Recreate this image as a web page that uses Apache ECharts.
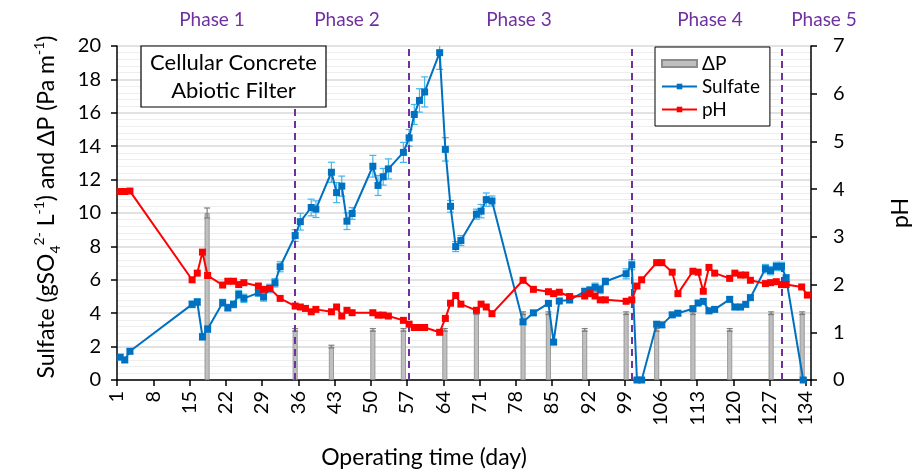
<!DOCTYPE html>
<html>
<head>
<meta charset="utf-8">
<script src="https://cdn.jsdelivr.net/npm/echarts@6/dist/echarts.min.js"></script>
<style>html,body{margin:0;padding:0;background:#fff}#c{width:920px;height:474px}</style>
</head>
<body>
<div id="c"></div>
<script>
// ---- data ----
const xTickLabels = [1, 8, 15, 22, 29, 36, 43, 50, 57, 64, 71, 78, 85, 92, 99, 106, 113, 120, 127, 134];
const leftTicks = [0, 2, 4, 6, 8, 10, 12, 14, 16, 18, 20];
const rightTicks = [0, 1, 2, 3, 4, 5, 6, 7];

const sulfateDays = [1.6, 2.5, 3.5, 15.5, 16.5, 17.5, 18.5, 21.4, 22.4, 23.5, 24.5, 25.5, 28.3, 29.3, 30.5, 31.5, 32.5,
  35.4, 36.4, 38.5, 39.4, 42.4, 43.4, 44.4, 45.4, 46.4, 50.4, 51.4, 52.4, 53.4, 56.3, 57.4, 58.4, 59.4, 60.4,
  63.3, 64.4, 65.4, 66.4, 67.4, 70.4, 71.3, 72.3, 73.4, 79.4, 81.4, 84.3, 85.3, 86.4, 88.4, 91.3, 92.3, 93.3, 94.3, 95.3,
  99.3, 100.4, 101.4, 102.3, 105.2, 106.2, 108.2, 109.3, 112.2, 113.2, 114.2, 115.3, 116.4, 119.3, 120.3, 121.4, 122.4, 123.3,
  126.2, 127.2, 128.3, 129.3, 130.2, 133.5];
const sulfateValues = [1.37, 1.2, 1.72, 4.53, 4.67, 2.59, 3.05, 4.63, 4.33, 4.53, 5.12, 4.89, 5.22, 4.97, 5.48, 5.82, 6.78,
  8.65, 9.48, 10.33, 10.23, 12.44, 11.22, 11.61, 9.51, 9.97, 12.8, 11.65, 12.17, 12.64, 13.63, 14.5, 15.9, 16.74, 17.25,
  19.6, 13.81, 10.4, 7.99, 8.35, 9.93, 10.11, 10.8, 10.72, 3.48, 4.02, 4.59, 2.27, 4.73, 4.79, 5.3, 5.38, 5.55, 5.42, 5.9,
  6.36, 6.9, 0, 0, 3.34, 3.3, 3.9, 4.0, 4.27, 4.61, 4.71, 4.14, 4.23, 4.83, 4.37, 4.37, 4.53, 4.93,
  6.67, 6.55, 6.8, 6.8, 6.11, 0];
const sulfateErrors = [0.15, 0.15, 0.15, 0.2, 0.2, 0.2, 0.2, 0.2, 0.2, 0.2, 0.25, 0.25, 0.2, 0.25, 0.25, 0.25, 0.3,
  0.35, 0.5, 0.5, 0.5, 0.6, 0.6, 0.6, 0.5, 0.35, 0.65, 0.6, 0.5, 0.6, 0.6, 0.5, 0.6, 0.7, 0.9,
  1.0, 0.7, 0.35, 0.3, 0.3, 0.3, 0.4, 0.4, 0.3, 0.15, 0.15, 0.15, 0.15, 0.15, 0.15, 0.2, 0.2, 0.25, 0.25, 0.2,
  0.3, 0.3, 0.1, 0.1, 0.15, 0.15, 0.15, 0.15, 0.15, 0.15, 0.15, 0.15, 0.15, 0.15, 0.15, 0.15, 0.15, 0.15,
  0.25, 0.25, 0.25, 0.25, 0.2, 0.1];

const phDays = [1.6, 2.5, 3.5, 15.5, 16.5, 17.5, 18.5, 21.4, 22.4, 23.5, 24.5, 25.5, 28.3, 29.3, 30.5, 32.5,
  35.4, 36.4, 37.4, 38.5, 39.4, 42.4, 43.4, 44.4, 45.4, 46.4, 50.4, 51.4, 52.4, 53.4, 56.3, 57.4, 58.4, 59.4, 60.4,
  63.3, 64.4, 65.4, 66.4, 67.4, 70.4, 71.3, 72.3, 73.4, 79.4, 81.4, 84.3, 85.3, 86.4, 88.4, 91.3, 92.3, 93.3, 94.3, 95.3,
  99.3, 100.4, 101.4, 102.3, 105.2, 106.2, 108.2, 109.3, 112.2, 113.2, 114.2, 115.3, 116.4, 119.3, 120.3, 121.4, 122.4, 123.3,
  126.2, 127.2, 128.3, 129.3, 130.2, 133.2, 134.3];
const phValues = [3.95, 3.95, 3.96, 2.10, 2.24, 2.68, 2.19, 1.99, 2.07, 2.07, 2.00, 2.04, 1.97, 1.90, 1.92, 1.71,
  1.55, 1.53, 1.50, 1.43, 1.48, 1.43, 1.53, 1.34, 1.46, 1.41, 1.41, 1.36, 1.36, 1.34, 1.25, 1.17, 1.10, 1.10, 1.10,
  1.00, 1.29, 1.61, 1.77, 1.59, 1.46, 1.59, 1.53, 1.39, 2.09, 1.90, 1.85, 1.81, 1.84, 1.75, 1.76, 1.81, 1.76, 1.68, 1.68,
  1.65, 1.68, 1.97, 2.10, 2.46, 2.46, 2.26, 1.81, 2.28, 2.26, 1.86, 2.36, 2.24, 2.13, 2.24, 2.20, 2.20, 2.09,
  2.02, 2.04, 2.06, 2.00, 2.00, 1.95, 1.78];

const dpDays = [18.4, 35.4, 42.4, 50.4, 56.3, 64.3, 70.4, 79.4, 84.3, 91.3, 99.3, 105.2, 112.2, 119.3, 127.3, 133.3];
const dpValues = [10, 3, 2, 3, 3, 3, 4, 4, 4, 3, 4, 3, 4, 3, 4, 4];
const dpErrors = [0.3, 0.08, 0.08, 0.08, 0.08, 0.08, 0.08, 0.08, 0.08, 0.08, 0.08, 0.08, 0.08, 0.08, 0.08, 0.08];

const phaseBoundaryDays = [35.4, 57.4, 100.3, 129.3];
const phaseNames = ['Phase 1', 'Phase 2', 'Phase 3', 'Phase 4', 'Phase 5'];
const phaseLabelX = [212, 347, 519, 710, 824];

// ---- chart ----
const DAY0 = 1; // axis runs from day 1 (x = day - DAY0)
const FONT = 'Lato, "Open Sans", sans-serif';
const pair = (ds, vs) => ds.map((d, i) => [d - DAY0, vs[i]]);

function errRender(color, cap) {
  return function (params, api) {
    const x = api.value(0), v = api.value(1), e = api.value(2);
    const top = api.coord([x, v + e]);
    const bot = api.coord([x, Math.max(0, v - e)]);
    const style = { stroke: color, lineWidth: 1.2 };
    return {
      type: 'group',
      children: [
        { type: 'line', shape: { x1: top[0], y1: top[1], x2: bot[0], y2: bot[1] }, style },
        { type: 'line', shape: { x1: top[0] - cap, y1: top[1], x2: top[0] + cap, y2: top[1] }, style },
        { type: 'line', shape: { x1: bot[0] - cap, y1: bot[1], x2: bot[0] + cap, y2: bot[1] }, style }
      ]
    };
  };
}

const chart = echarts.init(document.getElementById('c'), null, { renderer: 'canvas' });
const option = {
  animation: false,
  textStyle: { fontFamily: FONT },
  grid: { left: 117, right: 105, top: 46, bottom: 91, containLabel: false },
  legend: {
    orient: 'vertical', left: 655, top: 47,
    backgroundColor: '#fff', borderColor: '#000', borderWidth: 1,
    padding: [7, 10, 7, 6], itemGap: 4, itemWidth: 35, itemHeight: 7,
    textStyle: { fontSize: 19, color: '#000', fontFamily: FONT, lineHeight: 19 },
    data: [
      { name: 'ΔP', icon: 'rect' },
      { name: 'Sulfate' },
      { name: 'pH' }
    ]
  },
  xAxis: {
    type: 'value', min: 0, max: 134, interval: 7,
    name: 'Operating time (day)', nameLocation: 'middle', nameGap: 66,
    nameTextStyle: { fontSize: 23, color: '#000', padding: [0, 80, 0, 0] },
    axisLine: { lineStyle: { color: '#000', width: 1.5 } },
    axisTick: { inside: false, length: 6, lineStyle: { color: '#000', width: 1.5 } },
    axisLabel: {
      rotate: 90, fontSize: 20, color: '#000', margin: 11,
      formatter: v => { const lab = v + DAY0; return xTickLabels.includes(lab) ? String(lab) : ''; }
    },
    splitLine: { show: false }
  },
  yAxis: [
    {
      type: 'value', min: 0, max: 20, interval: 2, position: 'left',
      name: '{n|Sulfate (gSO}{sub|4}{sup|2-}{n| L}{sup|-1}{n|) and ΔP (Pa m}{sup|-1}{n|)}',
      nameLocation: 'middle', nameGap: 55,
      nameTextStyle: {
        padding: [0, 0, 0, 12],
        rich: {
          n: { fontSize: 23, color: '#000', fontFamily: FONT, lineHeight: 30, verticalAlign: 'middle' },
          sup: { fontSize: 14, color: '#000', fontFamily: FONT, lineHeight: 15, verticalAlign: 'top' },
          sub: { fontSize: 14, color: '#000', fontFamily: FONT, lineHeight: 15, verticalAlign: 'bottom' }
        }
      },
      axisLine: { show: true, lineStyle: { color: '#000', width: 1.5 } },
      axisTick: { show: true, inside: false, length: 6, lineStyle: { color: '#000', width: 1.5 } },
      axisLabel: { fontSize: 20, color: '#000', margin: 16,
        formatter: v => leftTicks.includes(v) ? String(v) : '' },
      splitLine: { show: true, lineStyle: { color: '#d9d9d9', width: 1.5 } },
      minorTick: { show: false, splitNumber: 5 },
      minorSplitLine: { show: true, lineStyle: { color: '#eeeeee', width: 1 } }
    },
    {
      type: 'value', min: 0, max: 7, interval: 1, position: 'right',
      name: 'pH', nameLocation: 'middle', nameGap: 78,
      nameTextStyle: { fontSize: 23, color: '#000' },
      axisLine: { show: true, lineStyle: { color: '#000', width: 1.5 } },
      axisTick: { show: true, inside: false, length: 6, lineStyle: { color: '#000', width: 1.5 } },
      axisLabel: { fontSize: 20, color: '#000', margin: 22,
        formatter: v => rightTicks.includes(v) ? String(v) : '' },
      splitLine: { show: false }
    }
  ],
  series: [
    {
      name: 'ΔP', type: 'bar', yAxisIndex: 0, barWidth: 5, z: 2,
      itemStyle: { color: '#BFBFBF', borderColor: '#8C8C8C', borderWidth: 0.8 },
      data: pair(dpDays, dpValues)
    },
    {
      name: 'ΔP err', type: 'custom', yAxisIndex: 0, z: 3, clip: true,
      renderItem: errRender('#7f7f7f', 3),
      data: dpDays.map((d, i) => [d - DAY0, dpValues[i], dpErrors[i]])
    },
    {
      name: 'Sulfate err', type: 'custom', yAxisIndex: 0, z: 4, clip: true,
      renderItem: errRender('#3FB6EE', 3.5),
      data: sulfateDays.map((d, i) => [d - DAY0, sulfateValues[i], sulfateErrors[i]])
    },
    {
      name: 'Sulfate', type: 'line', yAxisIndex: 0, z: 5,
      symbol: 'rect', symbolSize: 7, color: '#0070C0',
      lineStyle: { color: '#0070C0', width: 2 },
      itemStyle: { color: '#0070C0' },
      data: pair(sulfateDays, sulfateValues),
      markLine: {
        silent: true, symbol: ['none', 'none'],
        label: { show: false },
        lineStyle: { color: '#7030A0', type: [7, 5], width: 2 },
        data: phaseBoundaryDays.map(d => ({ xAxis: d - DAY0 }))
      }
    },
    {
      name: 'pH', type: 'line', yAxisIndex: 1, z: 5,
      symbol: 'rect', symbolSize: 7, color: '#FF0000',
      lineStyle: { color: '#FF0000', width: 2 },
      itemStyle: { color: '#FF0000' },
      data: pair(phDays, phValues)
    }
  ],
  graphic: [
    { type: 'rect', z: 100, zlevel: 0, shape: { x: 141, y: 46, width: 185, height: 61 },
      style: { fill: '#ffffff', stroke: '#000000', lineWidth: 1.2 } },
    { type: 'text', z: 101, x: 233.5, y: 76.5,
      style: { text: 'Cellular Concrete\nAbiotic Filter', fontSize: 22, lineHeight: 28,
        fontFamily: FONT, fill: '#000', align: 'center', verticalAlign: 'middle' } }
  ].concat(phaseNames.map((p, i) => ({
    type: 'text', x: phaseLabelX[i], y: 20, z: 100,
    style: { text: p, fontSize: 19, fontFamily: FONT, fill: '#7030A0', align: 'center', verticalAlign: 'middle' }
  })))
};
chart.setOption(option);
</script>
</body>
</html>
